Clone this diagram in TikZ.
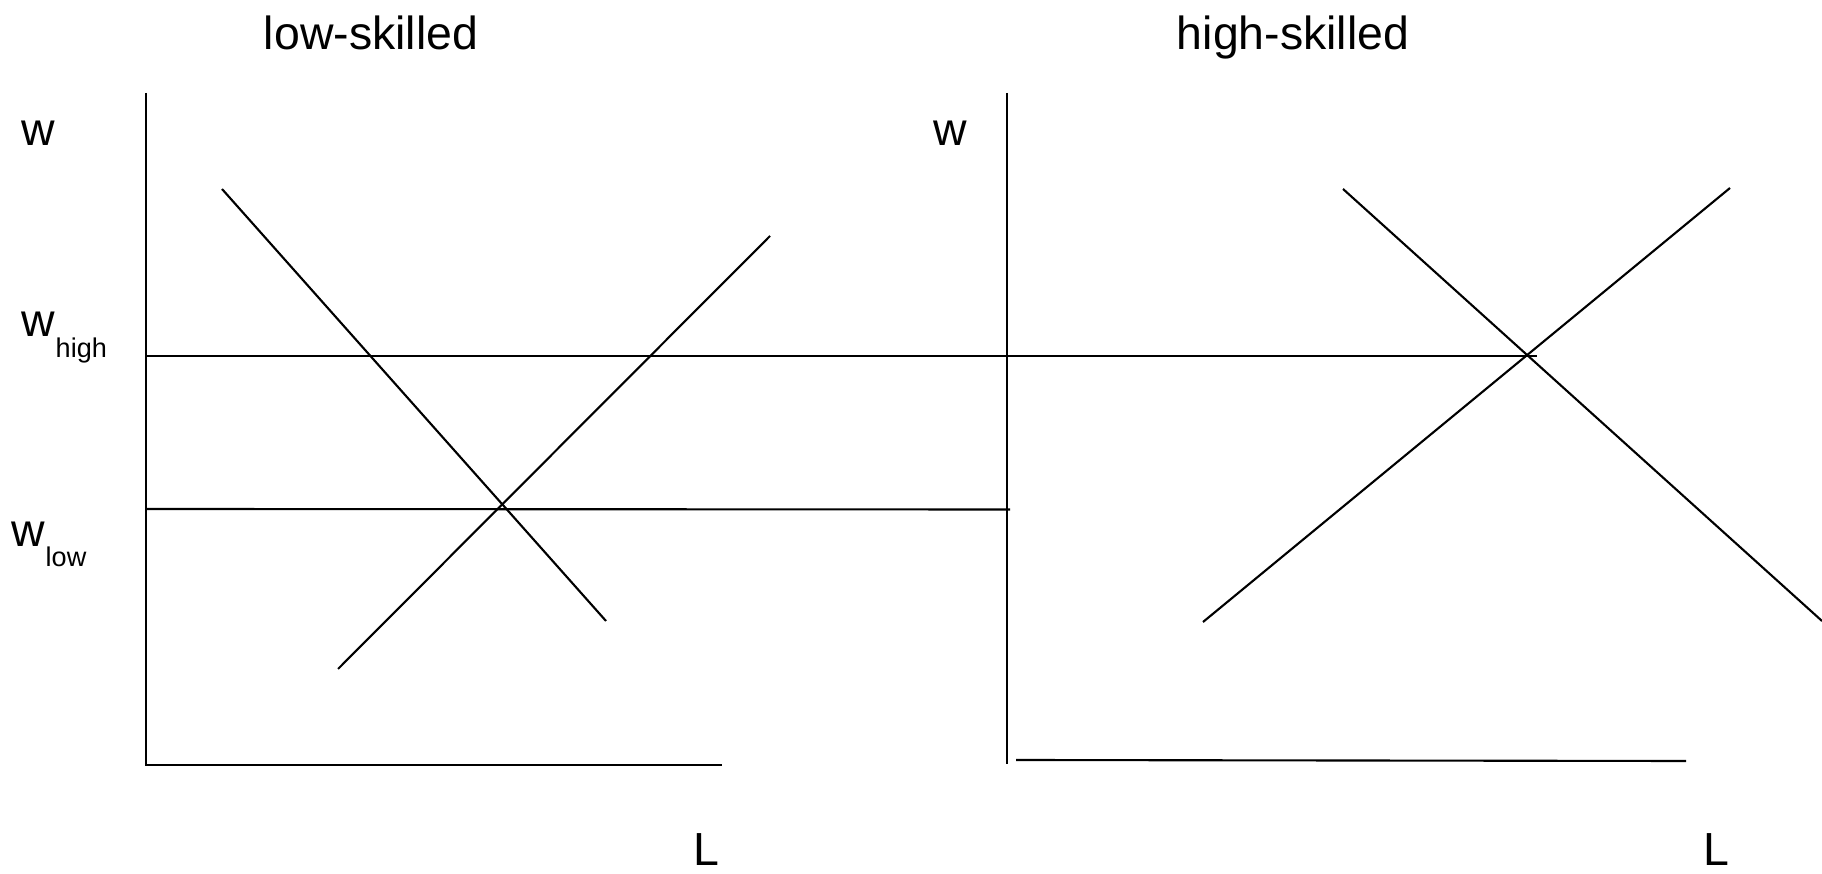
\documentclass[tikz,border=0pt]{standalone}
\usepackage{fontspec}
\setmainfont{Liberation Sans}
\begin{document}
\begin{tikzpicture}[
          x=0.01cm, y=-0.01cm,
          every node/.style={inner sep=0pt, font=\fontsize{13.2}{15}\selectfont},
          sublabel/.style={font=\fontsize{7.7}{9}\selectfont},
          axis/.style={line width=0.6pt},
          curve/.style={line width=0.6pt}
        ]
        \useasboundingbox (0,0) rectangle (1822,874);

        % Titles
        \node[anchor=base] (lowtitle) at (371,50) {low-skilled};
        \node[anchor=base] (hightitle) at (1293,50) {high-skilled};

        % Left panel (low-skilled)
        \coordinate (ltop) at (146,93);
        \coordinate (lorigin) at (146,765);
        \coordinate (lend) at (722,765);
        \draw[axis] (ltop) -- (lorigin) -- (lend);
        \node[anchor=base] (lw) at (38,146) {w};
        \node[anchor=base] (lL) at (706,866) {L};
        \coordinate (ldemtop) at (222,189);
        \coordinate (ldembot) at (606,621);
        \draw[curve] (ldemtop) -- (ldembot);
        \coordinate (lsupbot) at (338,669);
        \coordinate (lsuptop) at (770,236);
        \draw[curve] (lsupbot) -- (lsuptop);

        % Wage levels
        \node[anchor=base west] (whigh) at (21,337) {w};
        \node[sublabel, anchor=base west] (whighsub) at (55,358) {high};
        \node[anchor=base west] (wlow) at (11,547) {w};
        \node[sublabel, anchor=base west] (wlowsub) at (45,567) {low};
        \coordinate (highstart) at (146,355.6);
        \coordinate (highend) at (1537,355.6);
        \draw[curve] (highstart) -- (highend);
        \coordinate (lowstart) at (146,509);
        \coordinate (lowend) at (1010,509.5);
        \draw[curve] (lowstart) -- (lowend);

        % Right panel (high-skilled)
        \coordinate (rtop) at (1007,93);
        \coordinate (rbot) at (1007,764);
        \draw[axis] (rtop) -- (rbot);
        \coordinate (rxstart) at (1016,760);
        \coordinate (rxend) at (1686,761);
        \draw[axis] (rxstart) -- (rxend);
        \node[anchor=base] (rw) at (950,146) {w};
        \node[anchor=base] (rL) at (1716,866) {L};
        \coordinate (rdemtop) at (1343,189);
        \coordinate (rdembot) at (1822,621);
        \draw[curve] (rdemtop) -- (rdembot);
        \coordinate (rsupbot) at (1203,622);
        \coordinate (rsuptop) at (1730,188);
        \draw[curve] (rsupbot) -- (rsuptop);

      \end{tikzpicture}
\end{document}
